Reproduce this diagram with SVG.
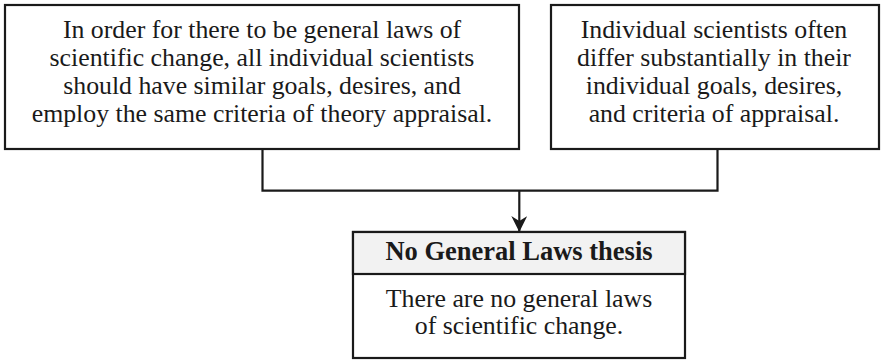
<svg xmlns="http://www.w3.org/2000/svg" width="881" height="360" viewBox="0 0 881 360">
  <defs>
    <style>
      .box { fill: #ffffff; stroke: #1a1a1a; stroke-width: 2.2; }
      .head { fill: #f2f2f2; stroke: #1a1a1a; stroke-width: 2.2; }
      .txt { font-family: "Liberation Serif", "Times New Roman", serif; font-size: 25.8px; fill: #1a1a1a; text-anchor: middle; }
      .bold { font-weight: bold; font-size: 26.5px; }
      .wire { fill: none; stroke: #1a1a1a; stroke-width: 2.2; }
    </style>
    <marker id="arrow" viewBox="0 0 16 16" refX="15" refY="8" markerWidth="16" markerHeight="16" markerUnits="userSpaceOnUse" orient="auto">
      <path d="M0,0 L16,8 L0,16 L5,8 Z" fill="#1a1a1a"/>
    </marker>
  </defs>

  <g id="connectors">
    <polyline class="wire" points="262.5,149 262.5,190.7 717.5,190.7 717.5,149"/>
    <line class="wire" x1="519.3" y1="190.7" x2="519.3" y2="231" marker-end="url(#arrow)"/>
  </g>

  <g id="premise-general-laws">
    <rect class="box" x="5" y="5" width="514" height="144"/>
    <text class="txt" x="262" y="38">In order for there to be general laws of</text>
    <text class="txt" x="262" y="66">scientific change, all individual scientists</text>
    <text class="txt" x="262" y="94">should have similar goals, desires, and</text>
    <text class="txt" x="262" y="121.7">employ the same criteria of theory appraisal.</text>
  </g>

  <g id="premise-individual-differences">
    <rect class="box" x="551" y="5" width="328" height="144"/>
    <text class="txt" x="714" y="38">Individual scientists often</text>
    <text class="txt" x="714" y="66">differ substantially in their</text>
    <text class="txt" x="714" y="94">individual goals, desires,</text>
    <text class="txt" x="714" y="121.7">and criteria of appraisal.</text>
  </g>

  <g id="no-general-laws-thesis">
    <rect class="box" x="353" y="232" width="332" height="126"/>
    <rect class="head" x="353" y="232" width="332" height="42"/>
    <text class="txt bold" x="519" y="260">No General Laws thesis</text>
    <text class="txt" x="519" y="306.5">There are no general laws</text>
    <text class="txt" x="519" y="333.5">of scientific change.</text>
  </g>
</svg>
